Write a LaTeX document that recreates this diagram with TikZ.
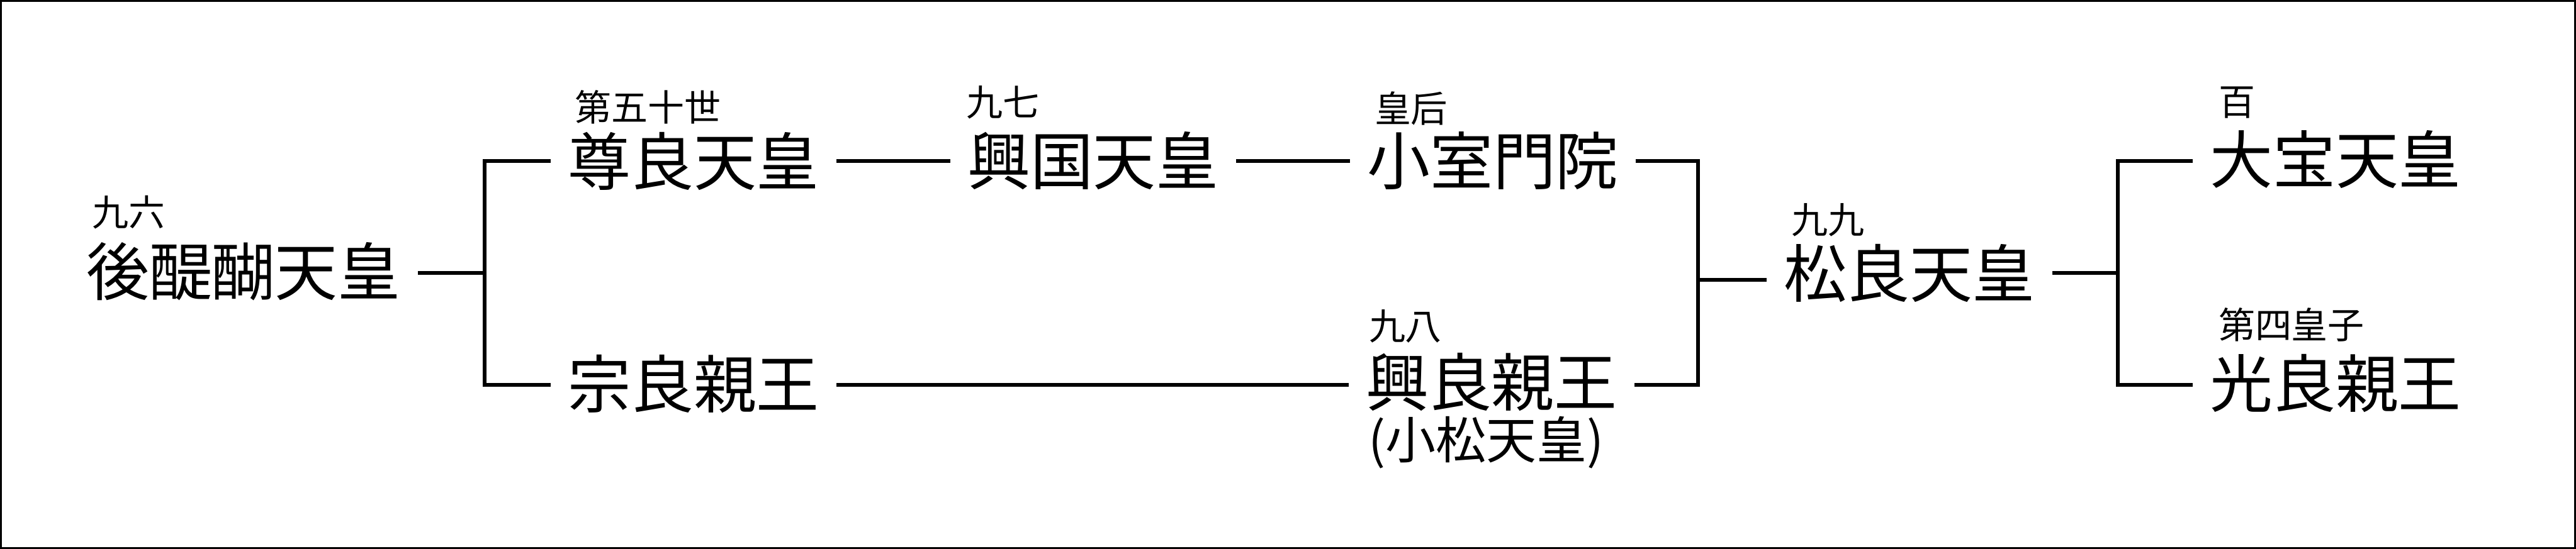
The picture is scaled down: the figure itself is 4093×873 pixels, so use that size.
\documentclass[tikz,border=0pt]{standalone}
\usepackage{fontspec}
\newfontfamily\cjk{Noto Sans CJK JP}
\begin{document}
\begin{tikzpicture}[x=0.1pt,y=-0.1pt,
  mainname/.style={inner xsep=2.5pt,inner ysep=0pt,font=\cjk\fontsize{10pt}{12pt}\selectfont},
  subname/.style={inner sep=0pt,anchor=west,font=\cjk\fontsize{8pt}{9.6pt}\selectfont},
  lbl/.style={inner sep=0pt,anchor=west,font=\cjk\fontsize{5.8pt}{7pt}\selectfont},
  conn/.style={line width=0.6pt,line join=miter}]
\useasboundingbox (0,0) rectangle (4093,873);
\draw[line width=0.3pt] (1.5,1.5) rectangle (4091.5,871.5);
% main names
\node[mainname] (gd) at (387,432) {後醍醐天皇};
\node[mainname] (tk) at (1102,256) {尊良天皇};
\node[mainname] (kk) at (1737,256) {興国天皇};
\node[mainname] (ks) at (2372,256) {小室門院};
\node[mainname] (mn) at (1102,610) {宗良親王};
\node[mainname] (ok) at (2370,608) {興良親王};
\node[subname] (ko) at (2172,704) {(小松天皇)};
\node[mainname] (sr) at (3034,434) {松良天皇};
\node[mainname] (dh) at (3711,254) {大宝天皇};
\node[mainname] (kr) at (3711,610) {光良親王};
% labels
\node[lbl] (l1) at (144,338) {九六};
\node[lbl] (l2) at (912,170) {第五十世};
\node[lbl] (l3) at (1534,163) {九七};
\node[lbl] (l4) at (2182,172) {皇后};
\node[lbl] (l5) at (2173,519) {九八};
\node[lbl] (l6) at (2844,350) {九九};
\node[lbl] (l7) at (3523,163) {百};
\node[lbl] (l8) at (3523,516) {第四皇子};
% connectors
\coordinate (j1) at (770,434);
\coordinate (j2) at (2698,445);
\coordinate (j3) at (3365,434);
\coordinate (t1) at (1102,256);
\coordinate (b1) at (1102,612);
\draw[conn] (gd.east |- j1) -- (j1);
\draw[conn] (tk.west) -| (j1) |- (mn.west |- b1);
\draw[conn] (tk) -- (kk);
\draw[conn] (kk) -- (ks);
\draw[conn] (mn.east |- b1) -- (ok.west |- b1);
\draw[conn] (ks.east) -| (j2) |- (ok.east |- b1);
\draw[conn] (j2) -- (j2 -| sr.west);
\draw[conn] (sr.east) -- (j3);
\draw[conn] (dh.west |- t1) -| (j3) |- (kr.west |- b1);
\end{tikzpicture}
\end{document}
